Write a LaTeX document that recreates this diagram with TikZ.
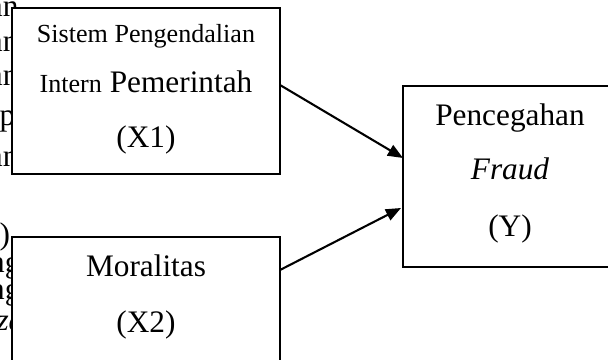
\documentclass[tikz,border=0pt]{standalone}
\usepackage{fontspec}
\setmainfont{Liberation Serif}
\usetikzlibrary{arrows.meta,calc}
\tikzset{
  varbox/.style={draw,fill=white,inner sep=0pt,outer sep=0pt},
  teks/.style={anchor=base,inner sep=0pt,font=\fontsize{12}{14}\selectfont},
  panah/.style={-{Triangle[length=5.8pt,width=4.6pt]},line width=0.8pt}
}
\begin{document}
\begin{tikzpicture}[x=0.3834pt,y=-0.3834pt]
        \fill[white] (0,0) rectangle (608,360);
        \useasboundingbox (0,0) rectangle (608,360);
        \clip (0,0) rectangle (608,360);
        %% sisa teks di belakang kotak
        \foreach \yy [count=\i] in {17,52,86,166}
                \node[teks,anchor=base east] (sa\i) at (19,\yy) {an};
        \node[teks,anchor=base west] (sp) at (-1,125) {p};
        \node[teks,anchor=base west] (sk) at (-1,244) {)};
        \node[teks,anchor=base east] (sg1) at (21,272) {ng};
        \node[teks,anchor=base east] (sg2) at (21,299) {ng};
        \node[teks,anchor=base west] (sz) at (-4,330) {\itshape za};
        %% X1
        \node[varbox,line width=0.6pt,minimum width=102.75pt,minimum height=63.64pt] (sipbox) at (146,91) {};
        \node[teks] (sip1) at (146,42.7) {\fontsize{10}{12}\selectfont Sistem Pengendalian};
        \node[teks] (sip2) at (146,92.7) {{\fontsize{10}{12}\selectfont Intern} Pemerintah};
        \node[teks] (sip3) at (146,148) {(X1)};
        %% X2
        \node[varbox,line width=0.9pt,minimum width=102.75pt,minimum height=63.64pt] (morbox) at (146,320) {};
        \node[teks] (mor1) at (146,276.7) {Moralitas};
        \node[teks] (mor2) at (146,332) {(X2)};
        %% Y
        \node[varbox,line width=0.5pt,minimum width=82.05pt,minimum height=69.40pt] (ybox) at (510,176.5) {};
        \node[teks] (y1) at (510,125) {Pencegahan};
        \node[teks] (y2) at (510,180) {\itshape Fraud};
        \node[teks] (y3) at (510,236.7) {(Y)};
        %% panah
        \draw[panah] ($(sipbox.east)+(0,-6)$) -- ($(ybox.west)+(0,-18.5)$);
        \draw[panah] ($(morbox.east)+(0,-50)$) -- ($(ybox.west)+(-2,31.5)$);
\end{tikzpicture}
\end{document}
